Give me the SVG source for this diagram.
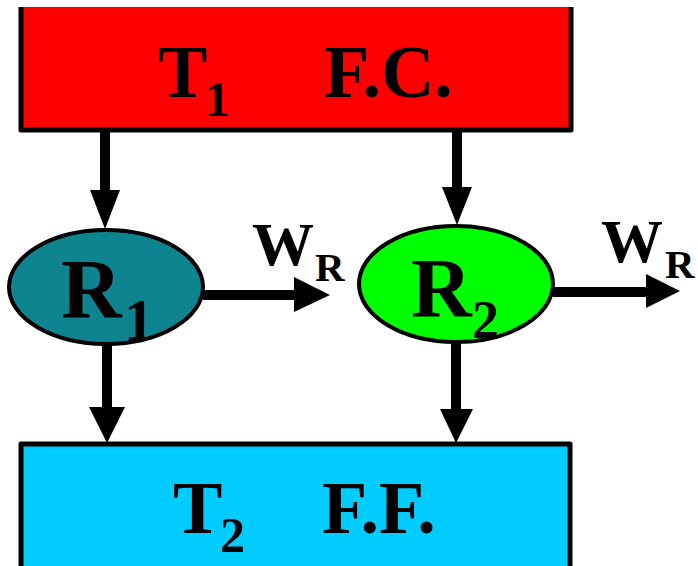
<svg xmlns="http://www.w3.org/2000/svg" width="698" height="566" viewBox="0 0 698 566">
<style>
.lbl{font-family:"Liberation Serif","Times New Roman",serif;font-weight:bold;fill:#000}
.big{font-size:74px}
.sub{font-size:50px}
.shaft{stroke:#000;stroke-width:10;fill:none}
.head{fill:#000}
.box{stroke:#000;stroke-width:5;fill:none;stroke-linejoin:round}
.ell{stroke:#000;stroke-width:4}
</style>
<rect width="698" height="566" fill="#fff"/>
<g id="t1">
<rect x="21" y="7" width="550" height="123" fill="#ff0000"/>
<polyline class="box" points="21,7 21,130 571,130 571,7"/>
<text class="lbl big" x="158" y="97">T</text>
<text class="lbl sub" x="205" y="116">1</text>
<text class="lbl big" x="324" y="97">F.C.</text>
</g>
<g id="t2">
<rect x="21" y="444" width="549" height="130" fill="#00ccff"/>
<polyline class="box" points="21,570 21,444 570,444 570,570"/>
<text class="lbl big" x="173" y="533">T</text>
<text class="lbl sub" x="220" y="552">2</text>
<text class="lbl big" x="322" y="533">F.F.</text>
</g>
<g id="r1">
<ellipse class="ell" cx="106" cy="287" rx="97" ry="57" fill="#0e8490"/>
<text class="lbl" x="61" y="318" font-size="84">R</text>
<text class="lbl" x="124" y="340" font-size="60">1</text>
</g>
<g id="r2">
<ellipse class="ell" cx="456" cy="284" rx="97" ry="58" fill="#00ff00"/>
<text class="lbl" x="411" y="317" font-size="84">R</text>
<text class="lbl" x="472" y="338" font-size="54">2</text>
</g>
<g id="wr1">
<text class="lbl" x="252" y="265" font-size="62">W</text>
<text class="lbl" x="315" y="281" font-size="41">R</text>
</g>
<g id="wr2">
<text class="lbl" x="601" y="262" font-size="62">W</text>
<text class="lbl" x="665" y="278" font-size="41">R</text>
</g>
<g id="connectors">
<line class="shaft" x1="105" y1="131" x2="105" y2="195"/>
<polygon class="head" points="90,190 120,190 105,229"/>
<line class="shaft" x1="457" y1="131" x2="457" y2="192"/>
<polygon class="head" points="442,187 472,187 457,225"/>
<line class="shaft" x1="107" y1="345" x2="107" y2="412"/>
<polygon class="head" points="89,407 125,407 107,443"/>
<line class="shaft" x1="456" y1="343" x2="456" y2="414"/>
<polygon class="head" points="440,409 473,409 456,443"/>
<line class="shaft" x1="203" y1="295" x2="298" y2="295"/>
<polygon class="head" points="294,277 294,312 330,295"/>
<line class="shaft" x1="553" y1="292" x2="650" y2="292"/>
<polygon class="head" points="646,274 646,308 680,291"/>
</g>
</svg>
